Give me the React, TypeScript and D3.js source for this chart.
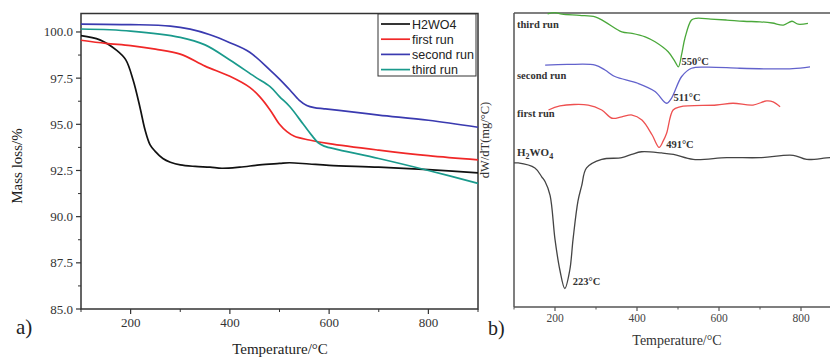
import React from "react";
import * as d3 from "d3";

// ---------- Panel a: TGA mass loss (%) ----------
const tgaH2WO4: [number, number][] = [
  [100, 99.8], [138, 99.57], [172, 99.0], [190, 98.5], [205, 97.4], [219, 95.9], [229, 94.7],
  [239, 93.9], [249, 93.55], [265, 93.15], [280, 92.95], [300, 92.8], [330, 92.72], [360, 92.68],
  [384, 92.62], [420, 92.68], [460, 92.8], [500, 92.88], [520, 92.92], [560, 92.85], [600, 92.78],
  [700, 92.68], [800, 92.55], [900, 92.37],
];
const tgaFirst: [number, number][] = [
  [100, 99.55], [150, 99.38], [200, 99.26], [250, 99.07], [300, 98.8], [350, 98.15], [400, 97.6],
  [440, 97.0], [460, 96.5], [481, 95.78], [500, 95.0], [515, 94.6], [530, 94.35], [560, 94.15],
  [600, 93.95], [700, 93.6], [800, 93.3], [900, 93.07],
];
const tgaSecond: [number, number][] = [
  [100, 100.43], [200, 100.4], [280, 100.32], [320, 100.15], [360, 99.85], [400, 99.42],
  [440, 98.9], [481, 97.94], [500, 97.45], [521, 96.86], [540, 96.3], [555, 96.02], [570, 95.9],
  [590, 95.84], [620, 95.75], [700, 95.5], [800, 95.22], [900, 94.84],
];
const tgaThird: [number, number][] = [
  [100, 100.16], [200, 100.05], [300, 99.71], [350, 99.3], [400, 98.48], [450, 97.58], [481, 97.04],
  [500, 96.5], [521, 95.95], [548, 95.0], [565, 94.4], [578, 94.0], [590, 93.82], [620, 93.62],
  [700, 93.15], [800, 92.5], [900, 91.8],
];
const seriesNamesA = ["H2WO4", "first run", "second run", "third run"];
const seriesColorsA = ["#111111", "#f02828", "#3a3ab0", "#1a9a8c"];
const yTicksA = [85, 87.5, 90, 92.5, 95, 97.5, 100];
const xTicks = [200, 400, 600, 800];

// ---------- Panel b: DTG (arbitrary units) ----------
const dtgThird: [number, number][] = [
  [182, 99.7], [200, 100.1], [217, 99.6], [260, 99.2], [298, 98.7], [322, 97.0],
  [363, 93.6], [388, 93.1], [420, 91.9], [444, 90.2], [476, 86.8], [493, 83.4], [501, 81.7],
  [509, 86.0], [517, 91.5], [533, 97.6], [545, 98.2], [580, 97.9], [619, 97.6], [660, 97.2],
  [700, 97.0], [730, 96.6], [757, 95.9], [778, 97.2], [793, 96.2], [817, 96.5],
];
const dtgSecond: [number, number][] = [
  [176, 82.3], [230, 82.5], [298, 82.3], [322, 80.6], [346, 78.4], [402, 76.1], [444, 73.3],
  [472, 69.3], [484, 71.0], [509, 78.4], [533, 81.2], [570, 81.6], [650, 81.2], [720, 81.0],
  [780, 81.1], [822, 81.7],
];
const dtgFirst: [number, number][] = [
  [184, 67.0], [212, 68.4], [281, 68.7], [314, 67.0], [339, 64.2], [363, 64.7], [388, 65.3],
  [412, 63.6], [437, 58.5], [454, 54.3], [464, 56.5], [472, 59.0], [488, 67.0], [505, 68.1],
  [594, 68.7], [634, 69.3], [683, 68.7], [716, 70.1], [732, 69.8], [749, 68.1],
];
const dtgH2WO4: [number, number][] = [
  [100, 49.0], [110, 49.0], [151, 47.3], [168, 44.2], [176, 42.6], [188, 38.0], [200, 23.0],
  [212, 12.5], [224, 6.3], [236, 12.5], [244, 23.0], [256, 36.0], [265, 41.2], [277, 47.3],
  [314, 50.2], [363, 50.8], [387, 51.9], [411, 52.8], [460, 52.4], [489, 51.9], [537, 50.2],
  [619, 50.8], [700, 50.8], [781, 51.6], [814, 50.2], [871, 50.8], [900, 50.6],
];
const dtgColors = ["#4aa83a", "#6262cc", "#ee5050", "#444444"];
const dtgLabels = ["third run", "second run", "first run"];
const peakLabels = ["550", "511", "491", "223"];

export default function App() {
  // panel a scales
  const xA = d3.scaleLinear().domain([100, 900]).range([81, 478]);
  const yA = d3.scaleLinear().domain([85, 101]).range([309, 13.5]);
  // panel b scales
  const xB = d3.scaleLinear().domain([100, 900]).range([514, 842]);
  const yB = d3.scaleLinear().domain([0, 100]).range([307, 13]);

  const lineA = d3.line<[number, number]>().x((d) => xA(d[0])).y((d) => yA(d[1])).curve(d3.curveCatmullRom.alpha(0.5));
  const lineB = d3.line<[number, number]>().x((d) => xB(d[0])).y((d) => yB(d[1])).curve(d3.curveCatmullRom.alpha(0.5));

  const seriesA = [tgaH2WO4, tgaFirst, tgaSecond, tgaThird];
  const seriesB = [dtgThird, dtgSecond, dtgFirst, dtgH2WO4];

  const minorX = [100, 300, 500, 700, 900];
  const minorYA = d3.range(0, 6).map((i) => 86.25 + i * 2.5);

  const serif = "'Liberation Serif', 'DejaVu Serif', serif";
  const sans = "'Liberation Sans', Arial, sans-serif";

  const peakPos: [number, number][] = [
    [xB(501) + 3, yB(81.7) - 2],
    [xB(472) + 7, yB(69.3) - 2],
    [xB(454) + 7, yB(54.3) + 1],
    [xB(224) + 8, yB(6.3) - 3],
  ];
  const sideLabelY = [27.7, 79, 116.7];

  return (
    <svg width={830} height={358} style={{ position: "absolute", left: 0, top: 0, background: "#fff" }}>
      <rect x={0} y={0} width={830} height={358} fill="#fff" />
      {/* ---------- Panel a ---------- */}
      <g>
        <rect x={xA(100)} y={yA(101)} width={xA(900) - xA(100)} height={yA(85) - yA(101)} fill="none" stroke="#333" strokeWidth={1.5} />
        {seriesA.map((s, i) => (
          <path key={i} d={lineA(s) || ""} fill="none" stroke={seriesColorsA[i]} strokeWidth={1.7} />
        ))}
        {yTicksA.map((t) => (
          <g key={t}>
            <line x1={81} x2={76} y1={yA(t)} y2={yA(t)} stroke="#333" strokeWidth={1.2} />
            <text x={73} y={yA(t) + 4.5} textAnchor="end" fontFamily={serif} fontSize={13} fill="#333">{t.toFixed(1)}</text>
          </g>
        ))}
        {minorYA.map((t) => (
          <line key={t} x1={81} x2={78} y1={yA(t)} y2={yA(t)} stroke="#333" strokeWidth={1} />
        ))}
        {xTicks.map((t) => (
          <g key={t}>
            <line x1={xA(t)} x2={xA(t)} y1={309} y2={314} stroke="#333" strokeWidth={1.2} />
            <text x={xA(t)} y={327} textAnchor="middle" fontFamily={serif} fontSize={13} fill="#333">{t}</text>
          </g>
        ))}
        {minorX.map((t) => (
          <line key={t} x1={xA(t)} x2={xA(t)} y1={309} y2={312} stroke="#333" strokeWidth={1} />
        ))}
        <text transform="translate(22,166) rotate(-90)" textAnchor="middle" fontFamily={serif} fontSize={15} fill="#222">Mass loss/%</text>
        <text x={280} y={354} textAnchor="middle" fontFamily={serif} fontSize={15} fill="#222">Temperature/°C</text>
        <text x={16} y={334} fontFamily={serif} fontSize={21} fill="#222">a)</text>
        {/* legend */}
        <rect x={378} y={14} width={98} height={62} fill="#fff" stroke="#333" strokeWidth={1} />
        {seriesNamesA.map((n, i) => (
          <g key={n}>
            <line x1={381} x2={410} y1={24 + i * 15.2} y2={24 + i * 15.2} stroke={seriesColorsA[i]} strokeWidth={1.7} />
            <text x={412} y={28.5 + i * 15.2} fontFamily={sans} fontSize={12.5} fill="#222">{n}</text>
          </g>
        ))}
        <text transform="translate(489,140) rotate(-90)" textAnchor="middle" fontFamily={serif} fontSize={12.5} fill="#333">dW/dT(mg/°C)</text>
      </g>

      {/* ---------- Panel b ---------- */}
      <g>
        <line x1={514} x2={830} y1={13} y2={13} stroke="#555" strokeWidth={1.5} />
        <line x1={514} x2={514} y1={13} y2={307} stroke="#555" strokeWidth={1.5} />
        <line x1={514} x2={830} y1={307} y2={307} stroke="#555" strokeWidth={1.5} />
        <clipPath id="clipB">
          <rect x={514} y={11} width={330} height={296} />
        </clipPath>
        <g clipPath="url(#clipB)">
          {seriesB.map((s, i) => (
            <path key={i} d={lineB(s) || ""} fill="none" stroke={dtgColors[i]} strokeWidth={1.3} />
          ))}
        </g>
        {xTicks.map((t) => (
          <g key={t}>
            <line x1={xB(t)} x2={xB(t)} y1={307} y2={311} stroke="#555" strokeWidth={1.2} />
            <text x={xB(t)} y={322} textAnchor="middle" fontFamily={serif} fontSize={11.5} fill="#444">{t}</text>
          </g>
        ))}
        {minorX.map((t) => (
          <line key={t} x1={xB(t)} x2={xB(t)} y1={307} y2={309.5} stroke="#555" strokeWidth={1} />
        ))}
        <text x={677} y={345} textAnchor="middle" fontFamily={serif} fontSize={14} fill="#333">Temperature/°C</text>
        <text x={488} y={335} fontFamily={serif} fontSize={20} fill="#222">b)</text>
        {dtgLabels.map((l, i) => (
          <text key={l} x={517} y={sideLabelY[i]} fontFamily={serif} fontWeight="bold" fontSize={10.5} fill="#333">{l}</text>
        ))}
        <text x={517} y={156} fontFamily={serif} fontWeight="bold" fontSize={11} fill="#333">
          H<tspan fontSize={8} dy={3}>2</tspan><tspan dy={-3}>WO</tspan><tspan fontSize={8} dy={3}>4</tspan>
        </text>
        {peakLabels.map((p, i) => (
          <text key={p} x={peakPos[i][0]} y={peakPos[i][1]} fontFamily={serif} fontWeight="bold" fontSize={10.5} fill="#333">{p}°C</text>
        ))}
      </g>
    </svg>
  );
}
